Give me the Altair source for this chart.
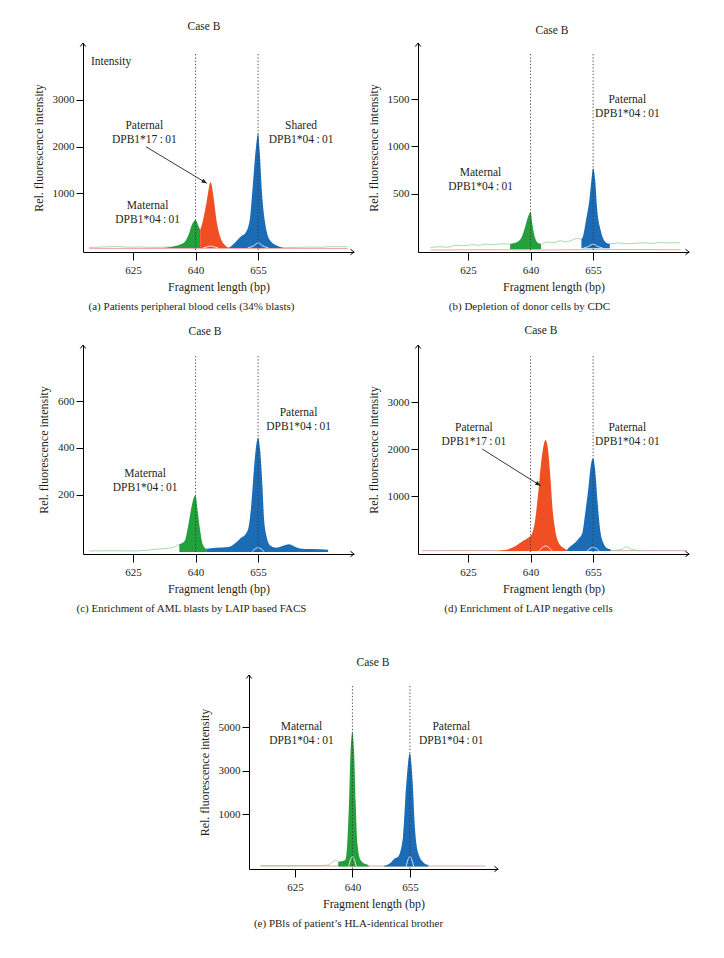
import altair as alt
import pandas as pd

FONT = "Liberation Serif"
INK = "#231f20"
GREEN = "#23a03b"
ORANGE = "#f04e23"
BLUE = "#1b6cb6"
THIN_GREEN = "#93cf93"
THIN_RED = "#ee8f8f"
THIN_BROWN = "#c99a86"
WHITE = "#f4f4f4"

X_DOMAIN = [613, 678]
X_TICKS = [625, 640, 655]
ALLELE_LINES = [640, 655]
M04 = "DPB1*04\u2009:\u200901"
P17 = "DPB1*17\u2009:\u200901"

# ---------------- panel (a)
a_ydomain = [-257, 4218]
a_yticks = [1000, 2000, 3000]
a_green_x = [631.1, 634.4, 637.0, 638.3, 639.1, 640.0, 640.6, 641.1]
a_green_y = [-171, -143, -71, 107, 321, 428, 320, 214]
a_orange_x = [641.1, 641.8, 642.6, 643.6, 644.5, 645.0, 645.9, 647.0, 648.0]
a_orange_y = [214, 428, 785, 1235, 785, 428, 71, -107, -171]
a_blue_x = [648.0, 649.3, 650.8, 651.9, 653.0, 653.7, 654.5, 655.0, 655.4, 656.0, 656.7, 657.8, 659.7, 661.2]
a_blue_y = [-171, -71, 71, 143, 428, 1141, 1997, 2283, 1862, 927, 357, 0, -128, -171]
a_gline_x = [614.5, 618, 621, 624, 627, 630, 633, 636, 661, 664, 667, 670, 673, 676.5]
a_gline_y = [-160, -150, -140, -155, -150, -160, -150, -155, -165, -160, -150, -155, -140, -145]
a_rline_x = [614.5, 630, 645, 660, 676.5]
a_rline_y = [-185, -182, -185, -180, -183]
a_white1_x = [641.8, 643.0, 643.6, 644.2, 645.4]
a_white1_y = [-171, -140, -128, -140, -171]
a_white2_x = [652.5, 654.0, 655.0, 656.0, 657.5]
a_white2_y = [-171, -120, -58, -120, -171]

# ---------------- panel (b)
b_ydomain = [-116, 2093]
b_yticks = [500, 1000, 1500]
b_green_x = [635.1, 636.8, 637.9, 638.7, 639.4, 640.0, 640.4, 641.1, 641.9, 642.5]
b_green_y = [-32, -11, 45, 151, 257, 310, 187, 29, -24, -32]
b_blue_x = [652.2, 652.6, 653.3, 654.1, 654.6, 655.0, 655.5, 656.0, 656.8, 657.9, 659.0]
b_blue_y = [18, 53, 222, 433, 645, 768, 645, 328, 116, -7, -32]
b_gline_x = [616, 618, 620, 622.4, 624, 626, 627.6, 629.5, 631, 632.7, 635.1, 642.5, 644, 645.5,
             647.1, 648.5, 650, 651.2, 652.2, 659, 661, 663, 665.1, 667, 669, 671, 673, 675.9]
b_gline_y = [-71, -60, -65, -45, -50, -38, -45, -32, -40, -30, -32, -32, -10, -18,
             3, -8, 10, 29, 18, -30, -20, -28, -24, -18, -26, -15, -20, -18]
b_rline_x = [616, 630, 645, 660, 676]
b_rline_y = [-95, -92, -94, -90, -92]
b_white_x = [652.6, 654.0, 655.0, 656.0, 657.4]
b_white_y = [-77, -55, -32, -55, -77]

# ---------------- panel (c)
c_ydomain = [-54, 841]
c_yticks = [200, 400, 600]
c_green_x = [636.1, 637.4, 638.3, 639.0, 639.6, 640.0, 640.4, 641.0, 641.5, 642.2, 642.6]
c_green_y = [-12, 2, 74, 145, 188, 196, 145, 59, 2, -27, -32]
c_blue_x = [642.6, 644.9, 647.9, 649.7, 650.9, 652.0, 652.7, 653.3, 653.8, 654.4, 655.0, 655.5,
            656.1, 656.4, 657.1, 658.0, 659.3, 660.5, 661.5, 662.5, 663.5, 665.0, 668.0, 671.8]
c_blue_y = [-32, -27, -24, -5, 16, 31, 59, 145, 260, 389, 444, 389,
            217, 102, 16, -19, -27, -22, -15, -12, -20, -30, -33, -36]
c_gline_x = [614.5, 620, 625, 628.4, 631, 634.4, 635.5, 636.1]
c_gline_y = [-41, -40, -41, -38, -33, -27, -19, -12]
c_white_x = [653.5, 655.0, 656.5]
c_white_y = [-45, -27, -45]

# ---------------- panel (d)
d_ydomain = [-234, 4213]
d_yticks = [1000, 2000, 3000]
d_orange_x = [631.8, 635.3, 637.9, 639.6, 640.2, 641.1, 641.9, 642.7, 643.6, 644.2, 644.8, 645.3,
              645.9, 646.8, 648.0, 648.7]
d_orange_y = [-170, -113, 28, 121, 170, 489, 1128, 1837, 2192, 1979, 1340, 702,
              277, -6, -113, -150]
d_blue_x = [648.7, 649.3, 650.5, 651.4, 652.4, 653.1, 653.9, 654.4, 655.0, 655.5, 656.1, 656.7,
            657.5, 658.4, 659.2]
d_blue_y = [-150, -92, -6, 79, 206, 632, 1198, 1624, 1802, 1553, 845, 277, -6, -113, -134]
d_rline_x = [614, 625, 635, 645, 655, 665, 677.5]
d_rline_y = [-164, -160, -164, -160, -164, -162, -164]
d_gline_x = [659.5, 661.7, 662.8, 664.4, 666.5]
d_gline_y = [-162, -140, -79, -140, -162]
d_white1_x = [642.0, 643.6, 645.2]
d_white1_y = [-170, -64, -170]
d_white2_x = [653.5, 655.0, 656.5]
d_white2_y = [-170, -92, -170]

# ---------------- panel (e)
e_ydomain = [-1517, 7403]
e_yticks = [1000, 3000, 5000]
e_green_x = [636.3, 638.1, 638.6, 639.1, 639.5, 640.0, 640.45, 640.85, 641.3, 642.1, 643.4, 644.2]
e_green_y = [-1180, -1104, -491, 1503, 3802, 4796, 3802, 1503, -337, -1104, -1287, -1333]
e_blue_x = [648.2, 649.8, 651.1, 651.9, 653.2, 654.0, 655.0, 655.7, 656.3, 657.2, 658.6, 659.8]
e_blue_y = [-1380, -1256, -1025, -950, -31, 2267, 3802, 2575, 428, -796, -1228, -1333]
e_rline_x = [616, 625, 635, 645, 655, 665, 674.8]
e_rline_y = [-1380, -1375, -1380, -1378, -1380, -1376, -1380]
e_gline_x = [616, 630, 633.5, 634.8, 635.6, 636.3]
e_gline_y = [-1366, -1360, -1340, -1200, -1120, -1180]
e_white1_x = [639.0, 640.0, 641.0]
e_white1_y = [-1400, -950, -1400]
e_white2_x = [654.0, 655.0, 656.0]
e_white2_y = [-1400, -950, -1400]

CHEV_RIGHT = "M -1.3 -1 L 0 0 L -1.3 1"
CHEV_UP = "M -1 1.3 L 0 0 L 1 1.3"
ARROW_HEAD = "M 0 0 L -1 -0.42 L -1 0.42 Z"

panels = [
    dict(w=271, pw=271, left=0, h=209, top=0, ydom=a_ydomain, yticks=a_yticks,
         caption="(a)  Patients peripheral blood cells (34% blasts)", capdx=-27, case=(121, -16),
         areas=[(a_green_x, a_green_y, -171, GREEN), (a_orange_x, a_orange_y, -171, ORANGE),
                (a_blue_x, a_blue_y, -171, BLUE)],
         lines=[(a_rline_x, a_rline_y, THIN_RED), (a_gline_x, a_gline_y, THIN_GREEN)],
         whites=[(a_white1_x, a_white1_y), (a_white2_x, a_white2_y)],
         labels=[("Paternal\n" + P17, 627.7, 2433), ("Maternal\n" + M04, 628.5, 738),
                 ("Shared\n" + M04, 665.3, 2433)],
         extra=("Intensity", 614.9, 3816),
         arrow=((628.1, 1997), (642.7, 1213), 31)),
    dict(w=271, pw=271, left=0, h=209, top=0, ydom=b_ydomain, yticks=b_yticks,
         caption="(b)  Depletion of donor cells by CDC", capdx=-24, case=(134, -12),
         areas=[(b_green_x, b_green_y, -88, GREEN), (b_blue_x, b_blue_y, -77, BLUE)],
         lines=[(b_rline_x, b_rline_y, THIN_RED), (b_gline_x, b_gline_y, THIN_GREEN)],
         whites=[(b_white_x, b_white_y)],
         labels=[("Maternal\n" + M04, 628.0, 716), ("Paternal\n" + M04, 663.2, 1494)],
         extra=None, arrow=None),
    dict(w=271, pw=271, left=0, h=209, top=0, ydom=c_ydomain, yticks=c_yticks,
         caption="(c)  Enrichment of AML blasts by LAIP based FACS", capdx=-27, case=(122, -13),
         areas=[(c_green_x, c_green_y, -45, GREEN), (c_blue_x, c_blue_y, -45, BLUE)],
         lines=[(c_gline_x, c_gline_y, THIN_GREEN)],
         whites=[(c_white_x, c_white_y)],
         labels=[("Maternal\n" + M04, 627.9, 289), ("Paternal\n" + M04, 664.7, 550)],
         extra=None, arrow=None),
    dict(w=271, pw=271, left=0, h=209, top=0, ydom=d_ydomain, yticks=d_yticks,
         caption="(d)  Enrichment of LAIP negative cells", capdx=-25, case=(123, -14),
         areas=[(d_orange_x, d_orange_y, -170, ORANGE), (d_blue_x, d_blue_y, -170, BLUE)],
         lines=[(d_rline_x, d_rline_y, THIN_BROWN), (d_gline_x, d_gline_y, THIN_GREEN)],
         whites=[(d_white1_x, d_white1_y), (d_white2_x, d_white2_y)],
         labels=[("Paternal\n" + P17, 626.4, 2447), ("Paternal\n" + M04, 663.2, 2447)],
         extra=None,
         arrow=((628.4, 2000), (642.4, 1219), 32)),
    dict(w=271, pw=249, left=166, h=222, top=28, ydom=e_ydomain, yticks=e_yticks,
         caption="(e)  PBls of patient\u2019s HLA-identical brother", capdx=130, case=(166 + 124, 16),
         areas=[(e_green_x, e_green_y, -1400, GREEN), (e_blue_x, e_blue_y, -1400, BLUE)],
         lines=[(e_rline_x, e_rline_y, THIN_BROWN), (e_gline_x, e_gline_y, THIN_GREEN)],
         whites=[(e_white1_x, e_white1_y), (e_white2_x, e_white2_y)],
         labels=[("Maternal\n" + M04, 626.7, 5026), ("Paternal\n" + M04, 665.8, 5026)],
         extra=None, arrow=None),
]


def make_panel(p):
    W, H, top, left, PW = p["w"], p["h"], p["top"], p["left"], p["pw"]
    if top:
        ysc = alt.Scale(domain=p["ydom"], nice=False, zero=False, range=[H, top])
    else:
        ysc = alt.Scale(domain=p["ydom"], nice=False, zero=False)
    if left:
        xsc = alt.Scale(domain=X_DOMAIN, nice=False, zero=False, range=[left, left + PW])
        yaxis = alt.Axis(values=p["yticks"], format="d", title="Rel. fluorescence intensity",
                         offset=-left)
    else:
        xsc = alt.Scale(domain=X_DOMAIN, nice=False, zero=False)
        yaxis = alt.Axis(values=p["yticks"], format="d", title="Rel. fluorescence intensity")
    X = alt.X("x:Q", scale=xsc,
              axis=alt.Axis(values=X_TICKS, format="d", title="Fragment length (bp)"))
    Y = alt.Y("y:Q", scale=ysc, axis=yaxis)
    layers = []
    for xs, ys, col in p["lines"]:
        df = pd.DataFrame({"x": xs, "y": ys})
        layers.append(alt.Chart(df).mark_line(color=col, strokeWidth=0.8, interpolate="monotone")
                      .encode(x=X, y=Y))
    for xs, ys, base, col in p["areas"]:
        df = pd.DataFrame({"x": xs, "y": ys, "b": [base] * len(xs)})
        layers.append(alt.Chart(df).mark_area(color=col, opacity=1, interpolate="monotone")
                      .encode(x=X, y=Y, y2=alt.Y2("b:Q")))
    for xs, ys in p["whites"]:
        df = pd.DataFrame({"x": xs, "y": ys})
        layers.append(alt.Chart(df).mark_line(color=WHITE, strokeWidth=1, opacity=0.85,
                                              interpolate="monotone")
                      .encode(x=X, y=Y))
    vl = pd.DataFrame({"x": ALLELE_LINES})
    layers.append(alt.Chart(vl).mark_rule(color="#3a3a3a", strokeWidth=0.9, strokeDash=[1.3, 2])
                  .encode(x=X, y=alt.value(top + 11), y2=alt.value(H)))
    lab = pd.DataFrame({"x": [l[1] for l in p["labels"]], "y": [l[2] for l in p["labels"]],
                        "t": [l[0] for l in p["labels"]]})
    layers.append(alt.Chart(lab).mark_text(font=FONT, fontSize=11.5, lineHeight=14, lineBreak="\n",
                                           color=INK, align="center", baseline="middle")
                  .encode(x=X, y=Y, text="t:N"))
    if p["extra"]:
        t, ex, ey = p["extra"]
        edf = pd.DataFrame({"x": [ex], "y": [ey], "t": [t]})
        layers.append(alt.Chart(edf).mark_text(font=FONT, fontSize=11.5, color=INK, align="left",
                                               baseline="middle").encode(x=X, y=Y, text="t:N"))
    if p["arrow"]:
        (x0, y0), (x1, y1), ang = p["arrow"]
        adf = pd.DataFrame({"x": [x0, x1], "y": [y0, y1]})
        layers.append(alt.Chart(adf).mark_line(color=INK, strokeWidth=0.9).encode(x=X, y=Y))
        hdf = pd.DataFrame({"x": [x1], "y": [y1]})
        layers.append(alt.Chart(hdf).mark_point(shape=ARROW_HEAD, filled=True, angle=ang, size=110,
                                                color=INK, opacity=1).encode(x=X, y=Y))
    chev = pd.DataFrame({"x": [X_DOMAIN[1], X_DOMAIN[0]], "y": [p["ydom"][0], p["ydom"][1]],
                         "s": [CHEV_RIGHT, CHEV_UP]})
    layers.append(alt.Chart(chev).mark_point(filled=False, color="black", strokeWidth=1, size=30, opacity=1)
                  .encode(x=X, y=Y, shape=alt.Shape("s:N", scale=None)))
    cdf = pd.DataFrame({"t": ["Case B"]})
    layers.append(alt.Chart(cdf).mark_text(font=FONT, fontSize=11.5, color=INK, align="center",
                                           baseline="middle")
                  .encode(x=alt.value(p["case"][0]), y=alt.value(p["case"][1]), text="t:N"))
    return alt.layer(*layers).properties(
        width=W, height=H,
        title=alt.TitleParams(text=p["caption"], orient="bottom", anchor="middle", offset=9,
                              dx=p["capdx"], font=FONT, fontSize=11, fontWeight="normal", color=INK))


charts = [make_panel(p) for p in panels]

chart = alt.concat(*charts, columns=2, spacing={"row": 93, "column": 64}, bounds="flush"
                   ).properties(padding={"left": 24, "top": 13, "right": 5, "bottom": 5}
                   ).configure_view(stroke=None
                   ).configure_axis(grid=False, domainColor="black", domainWidth=1, tickColor="black",
                                    labelFont=FONT, titleFont=FONT, labelFontSize=11, titleFontSize=12,
                                    titleFontWeight="normal", labelColor=INK, titleColor=INK
                   ).configure_axisX(tickSize=8, labelPadding=4, titlePadding=6
                   ).configure_axisY(tickSize=7, labelPadding=2, titlePadding=7)

chart.save("out.html", embed_options={"renderer": "svg", "actions": False})
